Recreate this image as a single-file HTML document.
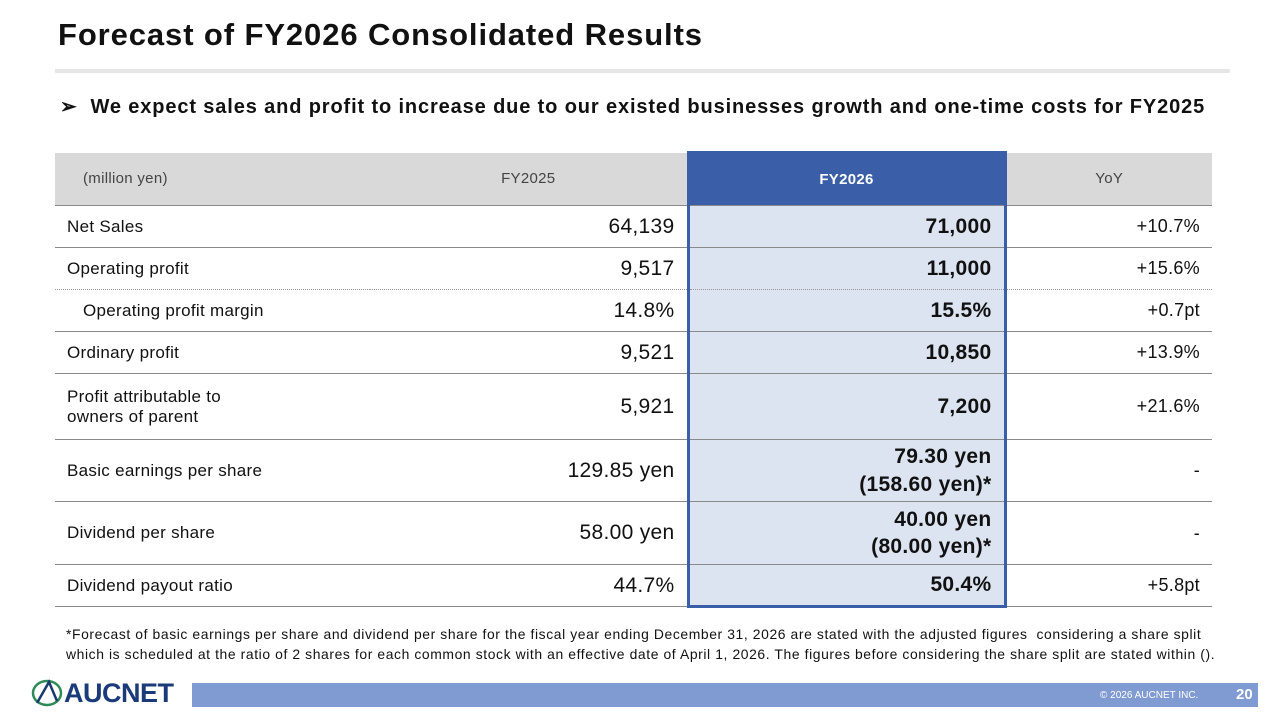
<!DOCTYPE html>
<html><head><meta charset="utf-8"><style>
body{margin:0;width:1280px;height:720px;background:#fff;position:relative;overflow:hidden;font-family:"Liberation Sans","Noto Sans CJK JP",sans-serif;color:#111}
.a{position:absolute}
table{position:absolute;left:55px;top:151px;border-collapse:collapse;width:1157px}
td{border-bottom:1.5px solid #8a8a8a;padding:0 12px;font-size:17px;letter-spacing:0.3px}
td.n{text-align:right;font-size:21px}
td.c{background:#dde4f1;font-weight:bold;border-left:3px solid #3b5ea8;border-right:3px solid #3b5ea8;line-height:1.3}
tr.h td{background:#d9d9d9;font-size:15px;text-align:center;color:#444;border-bottom:1.5px solid #8a8a8a}
tr.h td.c{background:#3b5ea8;color:#fff;border-top:3px solid #3b5ea8}
tr.last td.c{border-bottom:3px solid #3b5ea8}
tr.dot td{border-bottom:1.5px dotted #999}
</style></head><body>
<div class="a" style="left:58px;top:17px;font-size:31px;font-weight:bold;letter-spacing:0.9px">Forecast of FY2026 Consolidated Results</div>
<div class="a" style="left:55px;top:69px;width:1175px;height:4px;background:#e6e6e6"></div>
<div class="a" style="left:60px;top:94px;font-size:20px;font-weight:bold;letter-spacing:0.87px;white-space:nowrap">➢&nbsp; We expect sales and profit to increase due to our existed businesses growth and one-time costs for FY2025</div>
<table>
<colgroup><col style="width:315px"><col style="width:318px"><col style="width:317px"><col style="width:207px"></colgroup>
<tr class="h" style="height:53px"><td style="text-align:left;padding-left:28px">(million yen)</td><td>FY2025</td><td class="c">FY2026</td><td>YoY</td></tr>
<tr style="height:42px"><td>Net Sales</td><td class="n">64,139</td><td class="n c">71,000</td><td class="n" style="font-size:18px">+10.7%</td></tr>
<tr class="dot" style="height:42px"><td>Operating profit</td><td class="n">9,517</td><td class="n c">11,000</td><td class="n" style="font-size:18px">+15.6%</td></tr>
<tr style="height:42px"><td style="padding-left:28px">Operating profit margin</td><td class="n">14.8%</td><td class="n c">15.5%</td><td class="n" style="font-size:18px">+0.7pt</td></tr>
<tr style="height:42px"><td>Ordinary profit</td><td class="n">9,521</td><td class="n c">10,850</td><td class="n" style="font-size:18px">+13.9%</td></tr>
<tr style="height:66px"><td>Profit attributable to<br>owners of parent</td><td class="n">5,921</td><td class="n c">7,200</td><td class="n" style="font-size:18px">+21.6%</td></tr>
<tr style="height:62px"><td>Basic earnings per share</td><td class="n">129.85 yen</td><td class="n c">79.30 yen<br>(158.60 yen)*</td><td class="n" style="font-size:18px">-</td></tr>
<tr style="height:63px"><td>Dividend per share</td><td class="n">58.00 yen</td><td class="n c">40.00 yen<br>(80.00 yen)*</td><td class="n" style="font-size:18px">-</td></tr>
<tr class="last" style="height:42px"><td>Dividend payout ratio</td><td class="n">44.7%</td><td class="n c">50.4%</td><td class="n" style="font-size:18px">+5.8pt</td></tr>
</table>
<div class="a" style="left:66px;top:624px;font-size:13.9px;line-height:20px;width:1190px;letter-spacing:0.6px;white-space:nowrap">*Forecast of basic earnings per share and dividend per share for the fiscal year ending December 31, 2026 are stated with the adjusted figures&nbsp; considering a share split<br>which is scheduled at the ratio of 2 shares for each common stock with an effective date of April 1, 2026. The figures before considering the share split are stated within ().</div>
<div class="a" style="left:30px;top:679px;height:28px;display:flex;align-items:center">
<svg width="34" height="28" viewBox="0 0 32 28"><ellipse cx="16" cy="14" rx="14" ry="12" fill="none" stroke="#2e8b57" stroke-width="2.5"/><path d="M6 24 L18 3 L26 22" fill="none" stroke="#1a3a6e" stroke-width="2.5"/></svg>
<span style="font-size:27px;font-weight:bold;color:#1a3a7a;letter-spacing:-0.5px">AUCNET</span></div>
<div class="a" style="left:192px;top:683px;width:1066px;height:24px;background:#7f9bd2"></div>
<div class="a" style="left:1100px;top:690px;font-size:10px;color:#fff">© 2026 AUCNET INC.</div>
<div class="a" style="left:1236px;top:686px;font-size:15px;font-weight:bold;color:#fff">20</div>
</body></html>
